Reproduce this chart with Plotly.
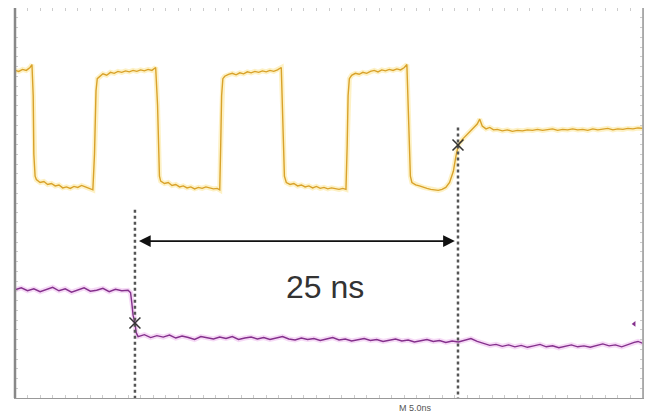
import plotly.graph_objects as go

# ---- data (time in ns, amplitude in divisions) ----
ch1_t = [0.0, 0.3, 0.6, 0.9, 1.2, 1.35, 1.45, 1.5, 1.6,
         1.7, 2.0, 2.3, 2.6, 2.9, 3.2, 3.5, 3.8, 4.1, 4.4, 4.7, 5.0, 5.3, 5.6, 5.9, 6.2,
         6.33, 6.38, 6.45, 6.55,
         6.7, 7.0, 7.3, 7.6, 7.9, 8.2, 8.5, 8.8, 9.1, 9.4, 9.7, 10.0, 10.3, 10.6, 10.9, 11.2,
         11.35, 11.42, 11.5,
         11.6, 11.9, 12.2, 12.5, 12.8, 13.1, 13.4, 13.7, 14.0, 14.3, 14.6, 14.9, 15.2, 15.5, 15.8, 16.1, 16.3,
         16.38, 16.45, 16.55,
         16.7, 17.0, 17.3, 17.6, 17.9, 18.2, 18.5, 18.8, 19.1, 19.4, 19.7, 20.0, 20.3, 20.6, 20.9, 21.2,
         21.3, 21.38, 21.45,
         21.6, 21.9, 22.2, 22.5, 22.8, 23.1, 23.4, 23.7, 24.0, 24.3, 24.6, 24.9, 25.2, 25.5, 25.8, 26.1, 26.35,
         26.45, 26.52, 26.62,
         26.8, 27.1, 27.4, 27.7, 28.0, 28.3, 28.6, 28.9, 29.2, 29.5, 29.8, 30.1, 30.4, 30.7, 31.0, 31.2,
         31.3, 31.38, 31.48,
         31.6, 31.9, 32.2, 32.5, 32.8, 33.1, 33.4, 33.7, 34.0, 34.3,
         34.6, 34.9, 35.1, 35.3, 35.6, 35.9, 36.2, 36.5, 36.8, 37.0, 37.2, 37.5, 37.8, 38.1,
         38.4, 38.8, 39.2, 39.6, 40.0, 40.4, 40.8, 41.2, 41.6, 42.0, 42.4, 42.8, 43.2, 43.6, 44.0,
         44.4, 44.8, 45.2, 45.6, 46.0, 46.4, 46.8, 47.2, 47.6, 48.0, 48.4, 48.8, 49.2, 49.6, 50.0]
ch1_v = [2.72, 2.70, 2.74, 2.72, 2.78, 2.84, 2.2, 1.0, 0.55,
         0.48, 0.42, 0.44, 0.38, 0.40, 0.35, 0.37, 0.31, 0.33, 0.30, 0.34, 0.32, 0.36, 0.33, 0.30, 0.27,
         1.0, 1.6, 2.3, 2.55,
         2.58, 2.65, 2.62, 2.68, 2.66, 2.70, 2.68, 2.71, 2.69, 2.72, 2.70, 2.73, 2.71, 2.74, 2.72, 2.78,
         2.0, 1.0, 0.55,
         0.45, 0.40, 0.42, 0.36, 0.38, 0.33, 0.35, 0.31, 0.33, 0.29, 0.32, 0.30, 0.33, 0.31, 0.29, 0.30, 0.27,
         1.2, 2.2, 2.55,
         2.60, 2.64, 2.66, 2.63, 2.67, 2.65, 2.69, 2.67, 2.70, 2.68, 2.71, 2.69, 2.72, 2.70, 2.73, 2.78,
         2.0, 1.0, 0.55,
         0.42, 0.38, 0.40, 0.35, 0.37, 0.33, 0.35, 0.31, 0.34, 0.30, 0.32, 0.29, 0.31, 0.30, 0.28, 0.30, 0.28,
         1.2, 2.2, 2.55,
         2.62, 2.66, 2.64, 2.68, 2.66, 2.70, 2.72, 2.69, 2.73, 2.71, 2.74, 2.72, 2.75, 2.73, 2.78, 2.84,
         2.0, 1.0, 0.55,
         0.42, 0.37, 0.35, 0.32, 0.30, 0.28, 0.27, 0.26, 0.28, 0.32,
         0.42, 0.65, 0.95, 1.19, 1.30, 1.38, 1.45, 1.55, 1.62, 1.72, 1.58, 1.52, 1.55, 1.50,
         1.51, 1.48, 1.50, 1.47, 1.49, 1.48, 1.50, 1.49, 1.51, 1.49, 1.50, 1.52, 1.49, 1.51, 1.50,
         1.52, 1.50, 1.51, 1.49, 1.52, 1.50, 1.51, 1.53, 1.50, 1.52, 1.51, 1.53, 1.52, 1.54, 1.53]

ch2_t = [0.0, 0.5, 1.0, 1.5, 2.0, 2.5, 3.0, 3.5, 4.0, 4.5, 5.0, 5.5, 6.0, 6.5, 7.0, 7.5, 8.0, 8.5, 9.0, 9.2,
         9.3, 9.4, 9.55, 9.65, 9.8,
         10.3, 10.8, 11.3, 11.8, 12.3, 12.8, 13.3, 13.8, 14.3, 14.8, 15.3, 15.8, 16.3, 16.8, 17.3, 17.8,
         18.3, 18.8, 19.3, 19.8, 20.3, 20.8, 21.3, 21.8, 22.3, 22.8, 23.3, 23.8, 24.3, 24.8, 25.3, 25.8,
         26.3, 26.8, 27.3, 27.8, 28.3, 28.8, 29.3, 29.8, 30.3, 30.8, 31.3, 31.8, 32.3, 32.8, 33.3, 33.8,
         34.3, 34.8, 35.3, 35.8, 36.3, 36.8, 37.3, 37.8, 38.3, 38.8, 39.3, 39.8, 40.3, 40.8, 41.3, 41.8,
         42.3, 42.8, 43.3, 43.8, 44.3, 44.8, 45.3, 45.8, 46.3, 46.8, 47.3, 47.8, 48.3, 48.8, 49.3, 49.6, 50.0]
ch2_v = [-1.78, -1.74, -1.80, -1.76, -1.82, -1.77, -1.73, -1.80, -1.76, -1.83, -1.78, -1.74, -1.81, -1.79,
         -1.75, -1.82, -1.77, -1.80, -1.79, -1.84,
         -2.05, -2.30, -2.46, -2.66, -2.74,
         -2.70, -2.76, -2.72, -2.75, -2.71, -2.77, -2.73, -2.76, -2.80, -2.74, -2.77, -2.79, -2.75, -2.78,
         -2.74, -2.80, -2.77, -2.75, -2.79, -2.76, -2.80, -2.77, -2.74, -2.79, -2.81, -2.77, -2.80, -2.78,
         -2.82, -2.79, -2.76, -2.81, -2.79, -2.83, -2.80, -2.78, -2.82, -2.80, -2.84, -2.81, -2.79, -2.83,
         -2.81, -2.85, -2.82, -2.80, -2.84, -2.82, -2.86, -2.83, -2.85, -2.81, -2.78, -2.84, -2.88, -2.92,
         -2.90, -2.94, -2.91, -2.95, -2.92, -2.96, -2.93, -2.90, -2.95, -2.93, -2.97, -2.94, -2.91, -2.95,
         -2.93, -2.96, -2.92, -2.89, -2.93, -2.91, -2.95, -2.90, -2.86, -2.84, -2.88]

cursor_t = [9.55, 35.27]
cursor_v = [-2.46, 1.19]
cursor_top = [-0.14, 1.55]
arrow_y = -0.78
label_text = "25 ns"
timebase_text = "M 5.0ns"

fig = go.Figure()

# glow + trace for channel 1
fig.add_trace(go.Scatter(x=ch1_t, y=ch1_v, mode="lines",
                         line=dict(color="rgba(250,215,90,0.35)", width=5), hoverinfo="skip"))
fig.add_trace(go.Scatter(x=ch1_t, y=ch1_v, mode="lines",
                         line=dict(color="#D9A22A", width=1.4)))
# glow + trace for channel 2
fig.add_trace(go.Scatter(x=ch2_t, y=ch2_v, mode="lines",
                         line=dict(color="rgba(230,150,230,0.35)", width=5), hoverinfo="skip"))
fig.add_trace(go.Scatter(x=ch2_t, y=ch2_v, mode="lines",
                         line=dict(color="#84308C", width=1.4)))

# dotted cursors
for t, top in zip(cursor_t, cursor_top):
    fig.add_trace(go.Scatter(x=[t, t], y=[top, -4], mode="lines",
                             line=dict(color="#555555", width=2.5, dash="dot")))

# cursor crossing markers
fig.add_trace(go.Scatter(x=cursor_t, y=cursor_v, mode="markers",
                         marker=dict(symbol="x-thin", size=11, line=dict(color="#333333", width=1.5))))

# double headed arrow
fig.add_annotation(x=cursor_t[1] - 0.25, y=arrow_y, ax=cursor_t[0] + 0.2, ay=arrow_y,
                   xref="x", yref="y", axref="x", ayref="y", text="",
                   showarrow=True, arrowhead=2, arrowside="end+start", arrowsize=1.3,
                   arrowwidth=1.8, arrowcolor="#111111")
fig.add_annotation(x=24.7, y=-1.72, xref="x", yref="y", text=label_text, showarrow=False,
                   font=dict(family="Liberation Sans, Arial", size=32, color="#333333"))
fig.add_annotation(x=0.637, y=-0.026, xref="paper", yref="paper", text=timebase_text,
                   showarrow=False, yanchor="middle",
                   font=dict(family="Liberation Sans, Arial", size=9, color="#555555"))

# small side markers
fig.add_trace(go.Scatter(x=[-0.25], y=[-2.98], mode="markers", cliponaxis=False,
                         marker=dict(symbol="line-ns", size=6, line=dict(color="#84308C", width=2))))
fig.add_trace(go.Scatter(x=[-0.1], y=[1.45], mode="markers", cliponaxis=False,
                         marker=dict(symbol="line-ew", size=5, line=dict(color="#E8C060", width=2))))
fig.add_trace(go.Scatter(x=[49.3], y=[-2.48], mode="markers", cliponaxis=False,
                         marker=dict(symbol="triangle-left", size=5, color="#84308C")))

# page body keeps an 8px margin, so the figure is sized to fit the window
fig.update_layout(
    width=644, height=410,
    margin=dict(l=7, r=9, t=0, b=20),
    paper_bgcolor="white", plot_bgcolor="white",
    showlegend=False,
    xaxis=dict(range=[0, 50], showgrid=False, zeroline=False, showticklabels=False,
               ticks="inside", dtick=1, ticklen=3, tickcolor="#CCCCCC",
               showline=True, linecolor="#999999", linewidth=1, mirror="ticks"),
    yaxis=dict(range=[-4, 4], showgrid=False, zeroline=False, showticklabels=False,
               ticks="inside", dtick=0.2, ticklen=3, tickcolor="#CCCCCC",
               showline=True, linecolor="#999999", linewidth=1, mirror="ticks"),
)
fig.add_shape(type="line", xref="paper", yref="paper", x0=0, x1=0, y0=0, y1=1,
              line=dict(color="#888888", width=2.5))
fig.add_shape(type="line", xref="paper", yref="paper", x0=1, x1=1, y0=0, y1=1,
              line=dict(color="#AAAAAA", width=1.8))

fig.write_html("out.html")
